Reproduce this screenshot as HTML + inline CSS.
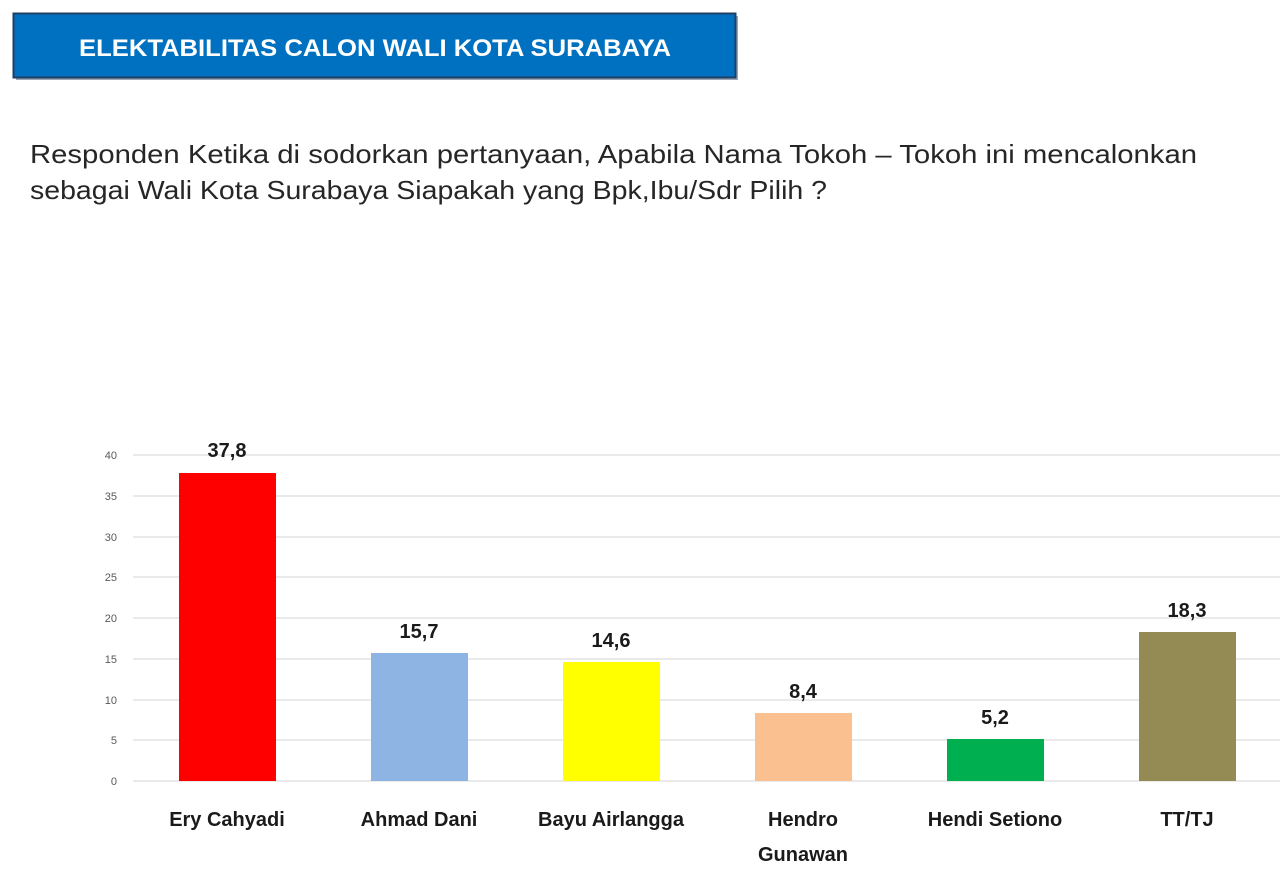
<!DOCTYPE html>
<html><head><meta charset="utf-8"><style>
html,body{margin:0;padding:0;background:#fff;}
svg{display:block;}
</style></head><body>
<svg width="1280" height="876" xmlns="http://www.w3.org/2000/svg" font-family="Liberation Sans, sans-serif">
<rect x="0" y="0" width="1280" height="876" fill="#fff"/>
<rect x="16" y="16" width="722" height="64" fill="#9aa7b5"/>
<rect x="13.5" y="13.5" width="722" height="64" fill="#0070c0" stroke="#1f3f66" stroke-width="2"/>
<text x="375" y="56" font-size="24" font-weight="bold" fill="#fff" text-anchor="middle" textLength="592" lengthAdjust="spacingAndGlyphs">ELEKTABILITAS CALON WALI KOTA SURABAYA</text>
<text x="30" y="163" font-size="26" fill="#262626" textLength="1167" lengthAdjust="spacingAndGlyphs">Responden Ketika di sodorkan pertanyaan, Apabila Nama Tokoh – Tokoh  ini mencalonkan</text>
<text x="30" y="199" font-size="26" fill="#262626" textLength="797" lengthAdjust="spacingAndGlyphs">sebagai Wali Kota Surabaya Siapakah yang Bpk,Ibu/Sdr Pilih ?</text>
<g stroke="#e3e3e3" stroke-width="1.5">
<line x1="133" x2="1280" y1="455" y2="455"/>
<line x1="133" x2="1280" y1="496" y2="496"/>
<line x1="133" x2="1280" y1="537" y2="537"/>
<line x1="133" x2="1280" y1="577" y2="577"/>
<line x1="133" x2="1280" y1="618" y2="618"/>
<line x1="133" x2="1280" y1="659" y2="659"/>
<line x1="133" x2="1280" y1="700" y2="700"/>
<line x1="133" x2="1280" y1="740" y2="740"/>
<line x1="133" x2="1280" y1="781" y2="781"/>
</g>
<g font-size="11" fill="#595959" text-anchor="end">
<text x="117" y="459">40</text><text x="117" y="500">35</text><text x="117" y="541">30</text>
<text x="117" y="581">25</text><text x="117" y="622">20</text><text x="117" y="663">15</text>
<text x="117" y="704">10</text><text x="117" y="744">5</text><text x="117" y="785">0</text>
</g>
<rect x="179" y="473" width="97" height="308" fill="#ff0000"/>
<rect x="371" y="653" width="97" height="128" fill="#8eb4e3"/>
<rect x="563" y="662" width="97" height="119" fill="#ffff00"/>
<rect x="755" y="713" width="97" height="68" fill="#fac090"/>
<rect x="947" y="739" width="97" height="42" fill="#00b050"/>
<rect x="1139" y="632" width="97" height="149" fill="#948a54"/>
<g font-size="20" font-weight="bold" fill="#1a1a1a" text-anchor="middle">
<text x="227" y="457">37,8</text>
<text x="419" y="638">15,7</text>
<text x="611" y="647">14,6</text>
<text x="803" y="698">8,4</text>
<text x="995" y="724">5,2</text>
<text x="1187" y="617">18,3</text>
</g>
<g font-size="20" font-weight="bold" fill="#1a1a1a" text-anchor="middle">
<text x="227" y="826">Ery Cahyadi</text>
<text x="419" y="826">Ahmad Dani</text>
<text x="611" y="826">Bayu Airlangga</text>
<text x="803" y="826">Hendro</text>
<text x="803" y="861">Gunawan</text>
<text x="995" y="826">Hendi Setiono</text>
<text x="1187" y="826">TT/TJ</text>
</g>
</svg>
</body></html>
